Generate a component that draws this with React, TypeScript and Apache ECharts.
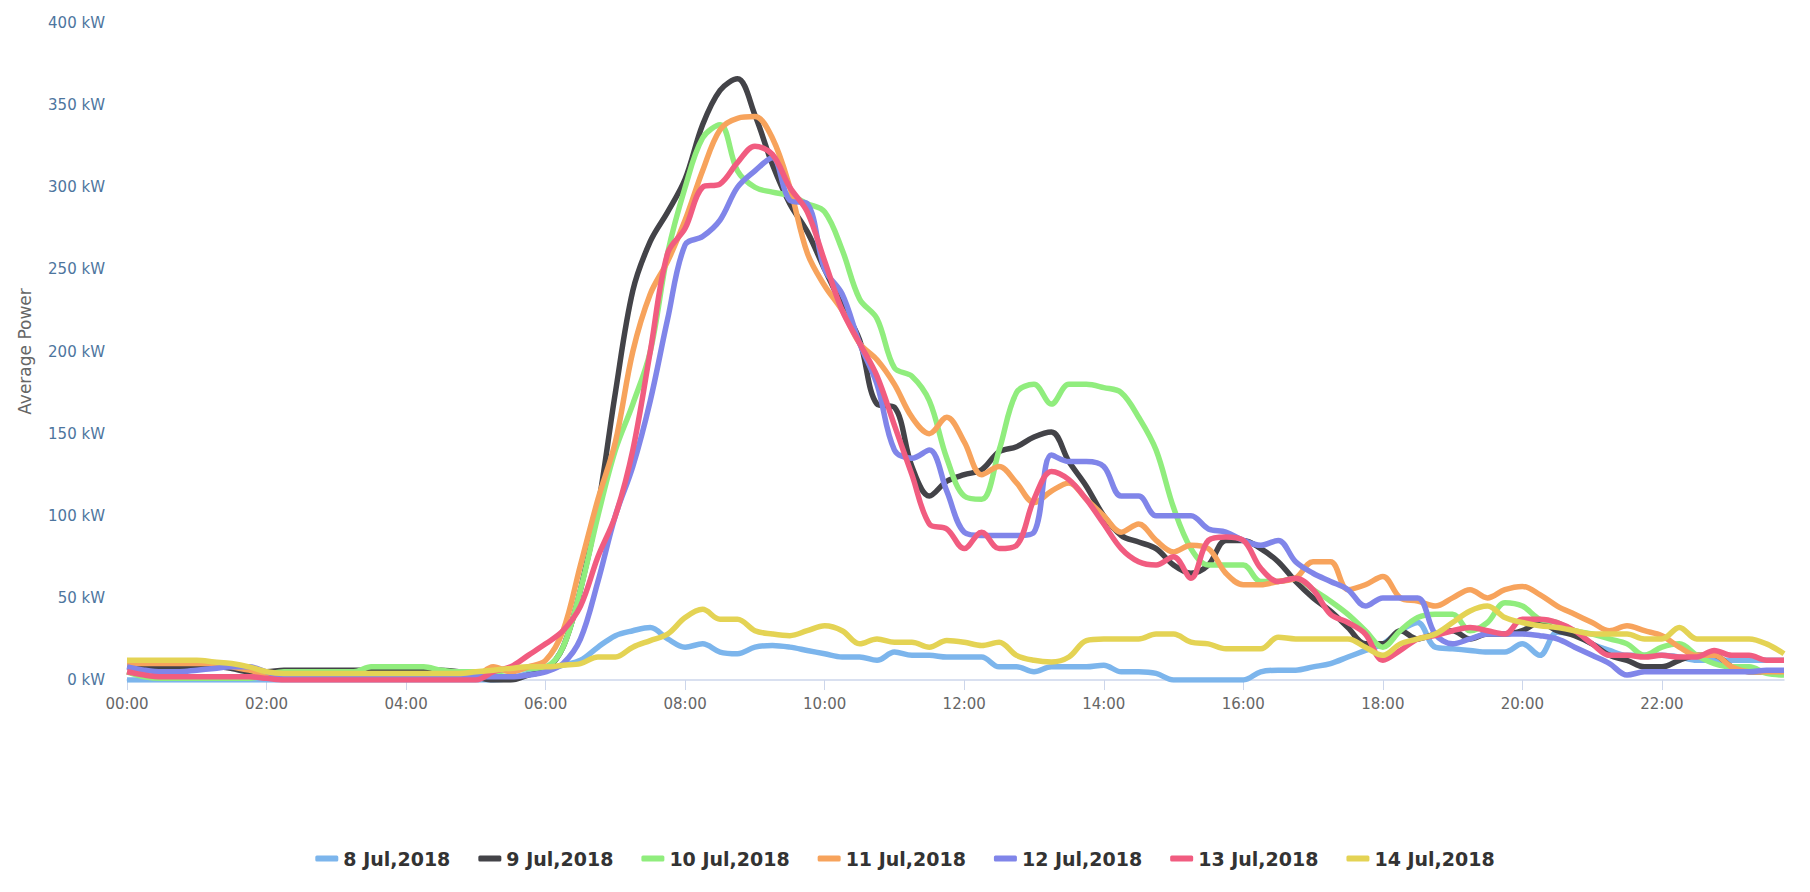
import React, { useEffect, useRef } from "react";
import * as echarts from "echarts";

// 15-minute time slots from 00:00 to 23:45
const times: string[] = [];
for (let h = 0; h < 24; h++) {
  for (let m = 0; m < 60; m += 15) {
    times.push(`${String(h).padStart(2, "0")}:${String(m).padStart(2, "0")}`);
  }
}

const seriesNames = [
  "8 Jul,2018",
  "9 Jul,2018",
  "10 Jul,2018",
  "11 Jul,2018",
  "12 Jul,2018",
  "13 Jul,2018",
  "14 Jul,2018",
];

const colors = ["#7cb5ec", "#434348", "#90ed7d", "#f7a35c", "#8085e9", "#f15c80", "#e4d354"];

// kW values, 96 per series (00:00 .. 23:45)
const jul8 = [
  0, 0, 0, 0, 0, 0, 0, 0, 0, 0, 0, 0, 0, 0, 0, 0,
  0, 0, 0, 0, 0, 0, 1, 4, 6, 9, 12, 20, 27, 30, 32, 25,
  20, 22, 17, 16, 20, 21, 20, 18, 16, 14, 14, 12, 17, 15, 15, 14,
  14, 14, 8, 8, 5, 8, 8, 8, 9, 5, 5, 4, 0, 0, 0, 0,
  0, 5, 6, 6, 8, 10, 14, 18, 22, 30, 35, 20, 19, 18, 17, 17,
  22, 15, 29, 28, 22, 18, 15, 15, 15, 14, 12, 12, 12, 12, 12, 12,
];
const jul9 = [
  8, 8, 8, 8, 8, 8, 7, 5, 5, 6, 6, 6, 6, 6, 6, 6,
  6, 6, 6, 5, 2, 0, 0, 3, 6, 20, 55, 105, 175, 237, 267, 285,
  305, 338, 359, 366, 344, 314, 290, 273, 250, 228, 207, 168, 166, 130, 112, 121,
  125, 128, 139, 142, 148, 151, 133, 118, 100, 88, 84, 80, 70, 65, 70, 85,
  85, 80, 72, 60, 50, 42, 32, 22, 22, 30, 25, 28, 30, 25, 28, 28,
  30, 35, 30, 27, 22, 15, 12, 8, 8, 12, 15, 15, 8, 5, 5, 5,
];
const jul10 = [
  5, 2, 1, 1, 1, 1, 1, 1, 3, 5, 5, 5, 5, 5, 8, 8,
  8, 8, 6, 5, 5, 5, 6, 7, 8, 20, 55, 100, 140, 168, 200, 260,
  300, 330, 338, 310, 300, 297, 295, 290, 285, 262, 232, 220, 190, 185, 170, 135,
  112, 110, 140, 175, 180, 168, 180, 180, 178, 175, 160, 140, 105, 80, 70, 70,
  70, 60, 60, 62, 55, 48, 40, 30, 20, 30, 38, 40, 40, 30, 35, 47,
  45, 37, 35, 30, 28, 25, 22, 15, 20, 22, 15, 10, 8, 8, 4, 3,
];
const jul11 = [
  10, 10, 10, 10, 10, 10, 8, 6, 3, 1, 1, 1, 1, 1, 1, 1,
  1, 1, 1, 1, 2, 8, 5, 8, 12, 30, 70, 110, 145, 200, 235, 255,
  280, 310, 335, 342, 343, 330, 300, 260, 240, 225, 205, 195, 180, 160, 150, 160,
  145, 125, 130, 120, 108, 115, 120, 110, 100, 90, 95, 85, 78, 82, 80, 65,
  58, 58, 60, 62, 72, 72, 55, 58, 63, 50, 48, 45, 50, 55, 50, 55,
  57, 52, 45, 40, 35, 30, 33, 30, 27, 20, 15, 15, 8, 5, 5, 5,
];
const jul12 = [
  8, 6, 5, 5, 6, 7, 8, 8, 5, 2, 2, 2, 2, 2, 2, 2,
  2, 2, 2, 2, 2, 2, 2, 3, 5, 10, 25, 60, 100, 130, 170, 220,
  265, 270, 280, 300, 310, 318, 292, 290, 250, 235, 205, 180, 140, 135, 140, 115,
  90, 88, 88, 88, 90, 137, 133, 133, 130, 112, 112, 100, 100, 100, 92, 90,
  85, 82, 85, 72, 65, 60, 55, 45, 50, 50, 50, 28, 22, 25, 28, 28,
  28, 27, 25, 20, 15, 10, 3, 5, 5, 5, 5, 5, 5, 5, 6, 6,
];
const jul13 = [
  5, 3, 2, 2, 2, 2, 2, 2, 1, 0, 0, 0, 0, 0, 0, 0,
  0, 0, 0, 0, 0, 5, 8, 15, 22, 30, 45, 75, 100, 140, 200, 260,
  275, 300, 302, 315, 325, 320, 300, 285, 255, 225, 205, 185, 155, 125, 95, 92,
  80, 90, 80, 82, 110, 127, 122, 110, 95, 80, 72, 70, 75, 62, 85, 87,
  85, 68, 60, 62, 55, 40, 35, 28, 12, 18, 25, 27, 30, 32, 30, 28,
  37, 37, 35, 30, 22, 15, 15, 14, 15, 14, 14, 18, 15, 15, 12, 12,
];
const jul14 = [
  12, 12, 12, 12, 12, 11, 10, 8, 5, 4, 4, 4, 4, 4, 4, 4,
  4, 4, 4, 4, 5, 6, 7, 8, 8, 9, 10, 14, 14, 20, 24, 28,
  38, 43, 37, 37, 30, 28, 27, 30, 33, 30, 22, 25, 23, 23, 20, 24,
  23, 21, 23, 15, 12, 11, 14, 24, 25, 25, 25, 28, 28, 23, 22, 19,
  19, 19, 26, 25, 25, 25, 25, 20, 15, 22, 25, 28, 35, 42, 45, 38,
  35, 33, 32, 30, 28, 28, 28, 25, 25, 32, 25, 25, 25, 25, 22, 16,
];

const seriesData = [jul8, jul9, jul10, jul11, jul12, jul13, jul14];

export default function App() {
  const ref = useRef<HTMLDivElement>(null);
  useEffect(() => {
    if (!ref.current) return;
    const chart = echarts.init(ref.current, undefined, { renderer: "svg" });
    chart.setOption({
      animation: false,
      color: colors,
      textStyle: { fontFamily: "DejaVu Sans" },
      grid: { left: 109, right: 18, top: 15, bottom: 204, containLabel: false },
      legend: {
        top: 836,
        left: "center",
        icon: "roundRect",
        itemWidth: 23,
        itemHeight: 6,
        itemGap: 28,
        textStyle: { fontSize: 19, fontWeight: "bold", color: "#333333", fontFamily: "DejaVu Sans" },
        data: seriesNames,
      },
      xAxis: {
        type: "category",
        boundaryGap: false,
        data: times,
        axisLine: { lineStyle: { color: "#ccd6eb", width: 1.5 } },
        axisTick: { interval: 7, length: 10, lineStyle: { color: "#ccd6eb" } },
        axisLabel: { interval: 7, color: "#666666", fontSize: 15, margin: 16 },
        splitLine: { show: false },
      },
      yAxis: {
        type: "value",
        min: 0,
        max: 400,
        interval: 50,
        name: "Average Power",
        nameLocation: "middle",
        nameGap: 94,
        nameTextStyle: { color: "#666666", fontSize: 17 },
        axisLabel: { formatter: "{value} kW", color: "#4d759e", fontSize: 15, margin: 22 },
        axisLine: { show: false },
        axisTick: { show: false },
        splitLine: { show: false },
      },
      series: seriesNames.map((name, i) => ({
        name,
        type: "line",
        data: seriesData[i],
        smooth: 0.35,
        showSymbol: false,
        lineStyle: { width: 5.5 },
      })),
    });
    return () => chart.dispose();
  }, []);
  return <div ref={ref} style={{ width: 1794, height: 876 }} />;
}
